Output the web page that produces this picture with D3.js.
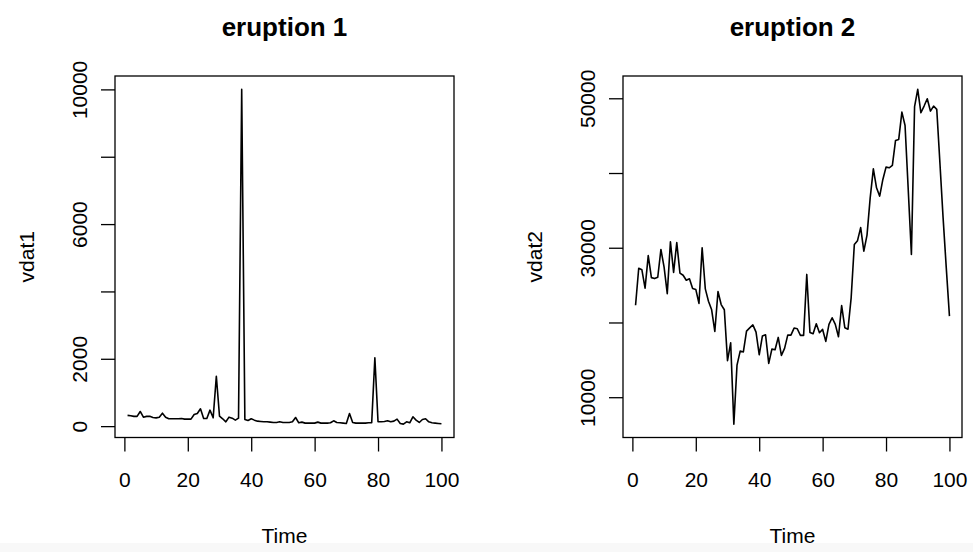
<!DOCTYPE html>
<style>
body { margin: 0; background: #fff; }
text { font-family: "Liberation Sans", Arial, sans-serif; fill: #000; }
.axis .domain { display: none; }
</style>
<svg width="973" height="552" class="ts"></svg>
<script src="https://d3js.org/d3.v7.min.js"></script>
<script>

var vdat1 = [320, 310, 290, 290, 435, 265, 290, 290, 255, 245,
             265, 385, 265, 218, 218, 218, 218, 228, 208, 208,
             208, 346, 376, 514, 228, 228, 475, 247, 1480, 297,
             218, 128, 267, 237, 178, 237, 10000, 198, 168, 218,
             178, 148, 138, 128, 128, 119, 109, 109, 128, 109,
             109, 109, 128, 257, 99, 119, 89, 89, 89, 89,
             119, 89, 89, 89, 99, 158, 109, 99, 89, 80,
             376, 109, 89, 89, 89, 89, 99, 99, 2030, 128,
             128, 138, 158, 128, 148, 208, 80, 60, 128, 99,
             277, 178, 109, 198, 218, 128, 99, 89, 79, 70];

var vdat2 = [22300, 27250, 27050, 24600, 28950, 26000, 25870, 26050, 29770, 27400,
             23860, 30800, 26700, 30700, 26600, 26320, 25650, 25850, 24550, 24420,
             22550, 30000, 24500, 22850, 21700, 18800, 24150, 22400, 21700, 14900,
             17280, 6400, 14300, 16170, 16060, 18850, 19270, 19670, 18700, 15680,
             18180, 18360, 14520, 16430, 16350, 18000, 15600, 16530, 18310, 18310,
             19250, 19160, 18270, 18270, 26430, 18670, 18490, 19830, 18630, 19070,
             17470, 19740, 20630, 19740, 18090, 22260, 19300, 19100, 23300, 30440,
             30950, 32700, 29550, 31690, 36680, 40560, 38020, 36910, 39140, 40790,
             40700, 41010, 44360, 44490, 48150, 46360, 37800, 29110, 48870, 51190,
             48060, 48960, 49940, 48290, 48960, 48510, 41300, 34000, 27300, 20850];

var timeTicks = [0, 20, 40, 60, 80, 100];
var ticks1 = [0, 2000, 4000, 6000, 8000, 10000];
var labels1 = [0, 2000, 6000, 10000];
var ticks2 = [10000, 20000, 30000, 40000, 50000];
var labels2 = [10000, 30000, 50000];

var svg = d3.select(".ts");

// faint grey strip at the very bottom of the screenshot
svg.append("rect")
    .attr("x", 0).attr("y", 543)
    .attr("width", 973).attr("height", 9)
    .attr("fill", "#f8f8f8");

function panel(left, values, ticks, labels, title, ylab) {
  var top = 76, width = 339, height = 361.5;
  var g = svg.append("g").attr("transform", "translate(" + left + "," + top + ")");

  var n = values.length;
  var x = d3.scaleLinear()
      .domain([1 - 0.04 * (n - 1), n + 0.04 * (n - 1)])
      .range([0, width]);

  var ext = d3.extent(values), pad = 0.04 * (ext[1] - ext[0]);
  var y = d3.scaleLinear()
      .domain([ext[0] - pad, ext[1] + pad])
      .range([height, 0]);

  var line = d3.line()
      .x(function(d, i) { return x(i + 1); })
      .y(function(d) { return y(d); });

  g.append("path")
      .datum(values)
      .attr("fill", "none")
      .attr("stroke", "#000")
      .attr("stroke-width", 1.6)
      .attr("stroke-linejoin", "round")
      .attr("d", line);

  g.append("rect")
      .attr("width", width)
      .attr("height", height)
      .attr("fill", "none")
      .attr("stroke", "#000")
      .attr("stroke-width", 1.3);

  var xa = g.append("g")
      .attr("class", "axis")
      .attr("transform", "translate(0," + height + ")")
      .call(d3.axisBottom(x).tickValues(timeTicks).tickSize(14).tickFormat(d3.format("d")));
  xa.selectAll("line").attr("stroke-width", 1.3);
  xa.selectAll("text")
      .attr("y", 49.5)
      .attr("dy", null)
      .attr("font-size", 21)
      .attr("font-family", null);

  var ya = g.append("g")
      .attr("class", "axis")
      .call(d3.axisLeft(y).tickValues(ticks).tickSize(14)
        .tickFormat(function(d) { return labels.indexOf(d) >= 0 ? d : ""; }));
  ya.selectAll("line").attr("stroke-width", 1.3);
  ya.selectAll("text")
      .attr("x", null)
      .attr("dy", null)
      .attr("text-anchor", "middle")
      .attr("transform", "translate(-28,0) rotate(-90)")
      .attr("font-size", 21)
      .attr("font-family", null);

  g.append("text")
      .attr("x", width / 2)
      .attr("y", 466.5)
      .attr("text-anchor", "middle")
      .attr("font-size", 21)
      .text("Time");

  g.append("text")
      .attr("transform", "translate(-81," + (height / 2) + ") rotate(-90)")
      .attr("text-anchor", "middle")
      .attr("font-size", 21)
      .text(ylab);

  g.append("text")
      .attr("x", width / 2)
      .attr("y", -40)
      .attr("text-anchor", "middle")
      .attr("font-size", 26)
      .attr("font-weight", "bold")
      .text(title);
}

panel(115, vdat1, ticks1, labels1, "eruption 1", "vdat1");
panel(623, vdat2, ticks2, labels2, "eruption 2", "vdat2");

</script>
